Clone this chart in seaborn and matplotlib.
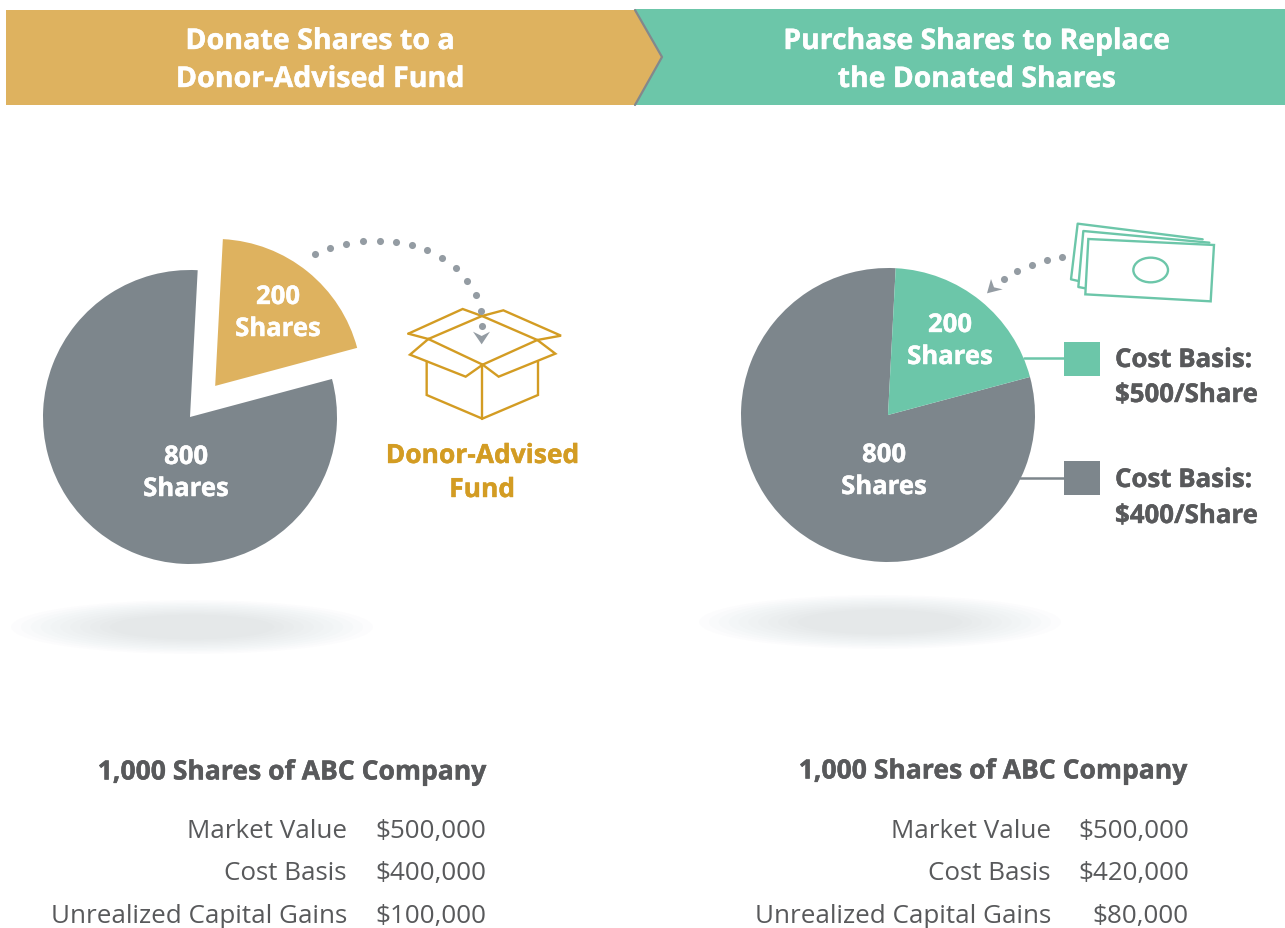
import matplotlib
matplotlib.use("Agg")
import matplotlib.pyplot as plt
import matplotlib.patheffects as pe
import seaborn as sns
from matplotlib.patches import Polygon, Ellipse, Rectangle

GOLD_FILL = "#deb25f"
GOLD_LINE = "#d39c23"
TEAL = "#6cc6a9"
GREY = "#7d868c"
DOT = "#949ca3"
INK = "#58595b"

share_labels = ["800\nShares", "200\nShares"]
share_counts = [800, 200]
left_rows = ["Market Value", "Cost Basis", "Unrealized Capital Gains"]
left_vals = ["$500,000", "$400,000", "$100,000"]
right_rows = ["Market Value", "Cost Basis", "Unrealized Capital Gains"]
right_vals = ["$500,000", "$420,000", "$80,000"]
table_title = "1,000 Shares of ABC Company"

sns.set_theme(style="white")
plt.rcParams["font.family"] = ["Open Sans", "DejaVu Sans"]

W, H = 1285, 929
fig = plt.figure(figsize=(W / 100, H / 100), dpi=100)
ax = fig.add_axes([0, 0, 1, 1])


def Y(p):
    return H - p - 1


def P(pts):
    return [(x, Y(y)) for x, y in pts]


def Z(pts, x0, y0):
    return [(x0 + x / 3, Y(y0 + y / 3)) for x, y in pts]


def text(x, y, s, size, color=INK, ha="center", weight="bold", spacing=1.12, **kw):
    t = ax.text(x, Y(y + 1.5), s, fontsize=size, color=color, ha=ha, va="center",
                fontweight=weight, linespacing=spacing, zorder=10, **kw)
    if weight == "bold":
        t.set_path_effects([pe.withStroke(linewidth=0.3, foreground=color)])
    return t


# header band
ax.add_patch(Polygon(P([(635, 9), (1285, 9), (1285, 105), (635, 105)]), fc=TEAL, ec="none"))
ax.add_patch(Polygon(P([(6, 10), (635, 10), (662, 57), (635, 105), (6, 105)]), fc=GOLD_FILL, ec="none", zorder=2))
ax.plot(*zip(*P([(635, 10), (662, 57), (635, 105)])), color="#83888c", lw=1.6, zorder=3)
text(320, 40, "Donate Shares to a", 20.6, "white")
text(320, 78, "Donor-Advised Fund", 20.6, "white")
text(977, 40, "Purchase Shares to Replace", 20.4, "white")
text(977, 78, "the Donated Shares", 20.4, "white")

# floor shadows
for cx, cy in [(192, 627), (880, 622)]:
    n = 11
    for i in range(n):
        f = 1 - 0.6 * i / n
        ax.add_patch(Ellipse((cx, Y(cy)), 362 * f, 54 * f, fc="#8f97a3", ec="none", alpha=0.02, zorder=1))

# pies
ax.pie(share_counts, colors=[GREY, GOLD_FILL], startangle=87, radius=147,
       center=(190, Y(417)), explode=[0, 40], frame=True, wedgeprops={"linewidth": 0, "zorder": 4})
ax.pie(share_counts, colors=[GREY, TEAL], startangle=87, radius=147,
       center=(888, Y(415)), frame=True, wedgeprops={"linewidth": 0, "zorder": 4})

text(186, 471, share_labels[0], 18.5, "white", spacing=1.24)
text(278, 311, share_labels[1], 18.5, "white", spacing=1.24)
text(884, 469, share_labels[0], 18.5, "white", spacing=1.24)
text(950, 339, share_labels[1], 18.5, "white", spacing=1.24)

# left dotted arrow
dots_l = [(46, 103), (91, 84), (139, 71), (189, 64), (239, 62), (288, 65), (335, 74), (382, 91),
          (427, 115), (467, 145), (502, 182), (529, 224), (544, 272), (546, 317)]
ax.scatter(*zip(*Z(dots_l, 300, 220)), s=26, color=DOT, linewidths=0, zorder=6)
ax.add_patch(Polygon(Z([(519, 335), (545, 348), (570, 335), (545, 373)], 300, 220), fc=DOT, ec="none", zorder=6))

# box
box_lines = [
    [(325, 341), (488, 267), (546, 288)],
    [(546, 288), (610, 271), (783, 347), (712, 360)],
    [(385, 357), (546, 288), (712, 360), (548, 434), (385, 357)],
    [(385, 357), (330, 404), (497, 470), (548, 434)],
    [(712, 360), (766, 401), (596, 470), (548, 434)],
    [(325, 341), (385, 357)],
    [(380, 425), (380, 525), (547, 596), (714, 525), (714, 425)],
    [(547, 434), (547, 596)],
]
for seg in box_lines:
    ax.plot(*zip(*Z(seg, 300, 220)), color=GOLD_LINE, lw=1.7, solid_joinstyle="miter", zorder=5)
text(482, 454, "Donor-Advised", 19, GOLD_LINE)
text(482, 488, "Fund", 19, GOLD_LINE)

# right dotted arrow and money
dots_r = [(276, 140), (231, 151), (185, 165), (140, 182), (101, 207)]
ax.scatter(*zip(*Z(dots_r, 970, 210)), s=26, color=DOT, linewidths=0, zorder=6)
ax.add_patch(Polygon(Z([(51, 250), (63, 207), (72, 232), (98, 238)], 970, 210), fc=DOT, ec="none", zorder=6))
ax.plot(*zip(*Z([(325, 213), (303, 208), (323, 41), (698, 88)], 970, 210)), color=TEAL, lw=1.7, zorder=5)
ax.plot(*zip(*Z([(346, 235), (325, 231), (340, 63), (718, 98)], 970, 210)), color=TEAL, lw=1.7, zorder=5)
ax.add_patch(Polygon(Z([(355, 87), (732, 105), (722, 274), (346, 253)], 970, 210), fc="white", ec=TEAL, lw=1.7, zorder=5))
cx, cy = Z([(542, 180)], 970, 210)[0]
ax.add_patch(Ellipse((cx, cy), 104 / 3, 74 / 3, fc="none", ec=TEAL, lw=1.7, zorder=6))

# legend keys
ax.plot([1024, 1064], [Y(358), Y(358)], color=TEAL, lw=1.8, zorder=5)
ax.plot([1020, 1064], [Y(478), Y(478)], color=GREY, lw=1.8, zorder=5)
ax.add_patch(Rectangle((1064, Y(376)), 36, 34, fc=TEAL, ec="none", zorder=6))
ax.add_patch(Rectangle((1064, Y(495)), 36, 34, fc=GREY, ec="none", zorder=6))
text(1115, 358, "Cost Basis:", 18.6, ha="left")
text(1115, 393, "$500/Share", 18.6, ha="left")
text(1115, 478, "Cost Basis:", 18.6, ha="left")
text(1115, 514, "$400/Share", 18.6, ha="left")

# tables
row_y = [829, 871, 914]
text(487, 771, table_title, 19.1, ha="right")
text(1188, 770, table_title, 19.1, ha="right")
for y, a, b, c, d in zip(row_y, left_rows, left_vals, right_rows, right_vals):
    text(347, y, a, 18.7, ha="right", weight="normal")
    text(486, y, b, 18.7, ha="right", weight="normal")
    text(1051, y, c, 18.7, ha="right", weight="normal")
    text(1189, y, d, 18.7, ha="right", weight="normal")

ax.set_xlim(0, W)
ax.set_ylim(0, H)
ax.set_aspect("auto")
ax.axis("off")
fig.savefig("out.png", dpi=100, facecolor="white")
